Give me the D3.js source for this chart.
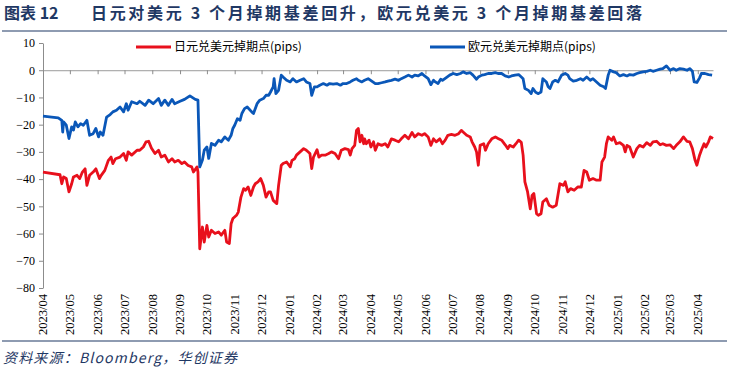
<!DOCTYPE html>
<html>
<head>
<meta charset="utf-8">
<script src="https://cdn.jsdelivr.net/npm/d3@7"></script>
<style>
  body { margin: 0; background: #fff; }
  svg { display: block; }
</style>
</head>
<body>
<script>
// 日元兑美元 3M 掉期点 (pips)
const jpy = [
  ["2023-04-01",-37.4],["2023-04-20",-38.4],["2023-04-22",-41.7],["2023-04-24",-39.2],["2023-04-27",-39.8],
  ["2023-04-30",-44.7],["2023-05-03",-41.7],["2023-05-05",-39.2],["2023-05-09",-38.6],["2023-05-12",-39.8],
  ["2023-05-15",-37.4],["2023-05-18",-36.2],["2023-05-20",-42.3],["2023-05-23",-38.6],["2023-05-27",-37.4],
  ["2023-05-30",-36.2],["2023-06-03",-39.8],["2023-06-05",-38.6],["2023-06-09",-36.8],["2023-06-13",-33.1],
  ["2023-06-16",-31.9],["2023-06-18",-34.3],["2023-06-21",-32.5],["2023-06-26",-31.9],["2023-06-30",-30.6],
  ["2023-07-03",-33.1],["2023-07-05",-30.0],["2023-07-09",-31.2],["2023-07-15",-29.4],["2023-07-18",-29.4],
  ["2023-07-22",-28.2],["2023-07-25",-26.3],["2023-07-28",-26.1],["2023-07-31",-28.6],["2023-08-04",-30.6],
  ["2023-08-08",-29.4],["2023-08-11",-31.9],["2023-08-15",-31.2],["2023-08-19",-33.7],["2023-08-23",-32.5],
  ["2023-08-26",-33.7],["2023-08-30",-33.1],["2023-09-03",-34.3],["2023-09-06",-33.7],["2023-09-10",-35.0],
  ["2023-09-14",-35.5],["2023-09-16",-37.4],["2023-09-20",-35.5],["2023-09-21",-37.4],["2023-09-23",-65.6],
  ["2023-09-26",-57.6],["2023-09-28",-63.1],["2023-10-01",-57.0],["2023-10-03",-61.3],["2023-10-06",-58.8],
  ["2023-10-10",-60.0],["2023-10-14",-59.4],["2023-10-17",-60.6],["2023-10-21",-58.8],["2023-10-23",-63.1],
  ["2023-10-26",-63.7],["2023-10-28",-56.4],["2023-10-30",-54.5],["2023-11-03",-53.3],["2023-11-05",-52.1],
  ["2023-11-08",-46.6],["2023-11-11",-43.5],["2023-11-13",-44.1],["2023-11-16",-42.9],["2023-11-19",-46.0],
  ["2023-11-22",-42.9],["2023-11-24",-41.7],["2023-11-27",-41.0],["2023-11-30",-39.8],["2023-12-03",-42.3],
  ["2023-12-06",-46.6],["2023-12-09",-44.7],["2023-12-11",-44.7],["2023-12-14",-47.8],["2023-12-18",-49.0],
  ["2023-12-20",-42.3],["2023-12-23",-34.9],["2023-12-25",-34.3],["2023-12-29",-33.7],["2024-01-02",-35.5],
  ["2024-01-04",-33.1],["2024-01-07",-32.5],["2024-01-09",-31.2],["2024-01-13",-30.0],["2024-01-17",-28.8],
  ["2024-01-20",-29.4],["2024-01-24",-30.6],["2024-01-26",-36.1],["2024-01-28",-31.9],["2024-02-01",-29.2],
  ["2024-02-03",-31.9],["2024-02-06",-31.2],["2024-02-10",-31.2],["2024-02-14",-30.6],["2024-02-17",-30.0],
  ["2024-02-21",-30.6],["2024-02-25",-32.5],["2024-02-28",-29.4],["2024-03-03",-28.8],["2024-03-07",-29.2],
  ["2024-03-09",-31.2],["2024-03-11",-28.8],["2024-03-14",-27.6],["2024-03-16",-22.1],["2024-03-18",-21.4],
  ["2024-03-20",-26.3],["2024-03-22",-23.9],["2024-03-24",-27.0],["2024-03-25",-25.2],["2024-03-27",-27.0],
  ["2024-03-30",-25.7],["2024-04-01",-28.2],["2024-04-04",-26.3],["2024-04-06",-29.4],["2024-04-09",-27.0],
  ["2024-04-13",-27.6],["2024-04-17",-27.0],["2024-04-20",-28.2],["2024-04-24",-25.2],["2024-04-28",-25.7],
  ["2024-05-02",-26.3],["2024-05-05",-25.2],["2024-05-09",-23.9],["2024-05-13",-25.2],["2024-05-17",-22.9],
  ["2024-05-20",-24.5],["2024-05-24",-23.3],["2024-05-28",-23.9],["2024-05-31",-23.3],["2024-06-04",-24.5],
  ["2024-06-07",-27.6],["2024-06-10",-25.2],["2024-06-13",-26.3],["2024-06-17",-25.2],["2024-06-20",-27.0],
  ["2024-06-23",-25.7],["2024-06-26",-23.9],["2024-06-30",-23.6],["2024-07-04",-23.9],["2024-07-08",-23.3],
  ["2024-07-11",-22.1],["2024-07-13",-22.7],["2024-07-17",-23.9],["2024-07-21",-24.5],["2024-07-23",-26.3],
  ["2024-07-26",-28.2],["2024-07-28",-30.0],["2024-07-30",-34.9],["2024-08-01",-27.6],["2024-08-05",-27.0],
  ["2024-08-07",-29.4],["2024-08-10",-27.0],["2024-08-14",-25.2],["2024-08-18",-24.5],["2024-08-21",-25.1],
  ["2024-08-25",-25.7],["2024-08-29",-27.4],["2024-09-01",-28.8],["2024-09-03",-27.6],["2024-09-07",-28.2],
  ["2024-09-10",-27.0],["2024-09-13",-25.7],["2024-09-16",-26.5],["2024-09-18",-31.2],["2024-09-20",-41.0],
  ["2024-09-23",-44.7],["2024-09-26",-50.9],["2024-09-28",-46.0],["2024-09-30",-45.3],["2024-10-03",-52.7],
  ["2024-10-05",-53.3],["2024-10-08",-52.7],["2024-10-10",-48.4],["2024-10-14",-47.2],["2024-10-17",-49.6],
  ["2024-10-21",-50.3],["2024-10-25",-49.6],["2024-10-29",-41.7],["2024-11-02",-42.3],["2024-11-04",-41.0],
  ["2024-11-07",-44.7],["2024-11-10",-43.5],["2024-11-14",-44.1],["2024-11-18",-42.9],["2024-11-22",-42.9],
  ["2024-11-25",-36.8],["2024-11-28",-37.4],["2024-12-01",-40.4],["2024-12-05",-39.8],["2024-12-09",-40.4],
  ["2024-12-13",-40.4],["2024-12-15",-33.7],["2024-12-18",-31.9],["2024-12-20",-27.0],["2024-12-22",-24.5],
  ["2024-12-26",-25.7],["2024-12-28",-24.5],["2024-12-31",-27.0],["2025-01-04",-26.6],["2025-01-08",-27.6],
  ["2025-01-10",-30.0],["2025-01-12",-27.6],["2025-01-15",-28.2],["2025-01-19",-31.9],["2025-01-23",-28.8],
  ["2025-01-26",-27.6],["2025-01-30",-28.2],["2025-02-03",-26.6],["2025-02-07",-27.6],["2025-02-10",-26.3],
  ["2025-02-14",-26.1],["2025-02-18",-27.4],["2025-02-21",-27.0],["2025-02-25",-27.6],["2025-03-01",-27.4],
  ["2025-03-05",-28.8],["2025-03-08",-27.6],["2025-03-12",-26.3],["2025-03-16",-24.5],["2025-03-20",-26.1],
  ["2025-03-23",-26.3],["2025-03-26",-28.8],["2025-03-29",-33.1],["2025-03-31",-34.9],["2025-04-03",-31.2],
  ["2025-04-05",-29.4],["2025-04-08",-27.0],["2025-04-10",-28.2],["2025-04-13",-26.3],["2025-04-15",-24.5],
  ["2025-04-18",-25.1]
];

// 欧元兑美元 3M 掉期点 (pips)
const eur = [
  ["2023-04-01",-16.9],["2023-04-18",-17.5],["2023-04-22",-18.4],["2023-04-23",-22.7],["2023-04-24",-19.0],
  ["2023-04-27",-20.2],["2023-04-30",-25.1],["2023-05-03",-20.8],["2023-05-05",-22.0],["2023-05-07",-19.0],
  ["2023-05-10",-20.8],["2023-05-13",-19.6],["2023-05-16",-20.2],["2023-05-20",-18.4],["2023-05-23",-23.9],
  ["2023-05-27",-23.3],["2023-05-30",-21.4],["2023-06-02",-24.5],["2023-06-04",-22.7],["2023-06-07",-23.9],
  ["2023-06-11",-17.2],["2023-06-15",-16.3],["2023-06-18",-15.3],["2023-06-22",-14.7],["2023-06-26",-13.5],
  ["2023-06-30",-15.3],["2023-07-03",-12.3],["2023-07-05",-14.7],["2023-07-09",-11.6],["2023-07-15",-12.3],
  ["2023-07-18",-11.4],["2023-07-24",-12.9],["2023-07-28",-11.0],["2023-08-02",-12.3],["2023-08-08",-10.4],
  ["2023-08-11",-12.9],["2023-08-15",-11.0],["2023-08-19",-12.9],["2023-08-23",-10.7],["2023-08-26",-12.3],
  ["2023-09-01",-11.4],["2023-09-06",-10.7],["2023-09-12",-9.4],["2023-09-18",-10.7],["2023-09-21",-11.0],
  ["2023-09-23",-35.5],["2023-09-26",-33.0],["2023-09-28",-29.4],["2023-10-01",-28.2],["2023-10-03",-32.4],
  ["2023-10-06",-26.9],["2023-10-10",-27.6],["2023-10-14",-25.7],["2023-10-17",-26.3],["2023-10-21",-24.5],
  ["2023-10-25",-25.7],["2023-10-28",-23.9],["2023-10-30",-21.4],["2023-11-01",-20.2],["2023-11-04",-17.8],
  ["2023-11-07",-18.4],["2023-11-09",-15.9],["2023-11-12",-14.1],["2023-11-15",-13.5],["2023-11-20",-15.3],
  ["2023-11-22",-15.9],["2023-11-26",-12.3],["2023-11-29",-11.0],["2023-12-03",-10.4],["2023-12-06",-9.2],
  ["2023-12-09",-9.2],["2023-12-11",-8.0],["2023-12-14",-6.1],["2023-12-15",-3.1],["2023-12-17",-8.6],
  ["2023-12-20",-7.4],["2023-12-23",-1.8],["2023-12-25",-2.5],["2023-12-29",-3.7],["2024-01-02",-4.3],
  ["2024-01-05",-3.1],["2024-01-09",-4.3],["2024-01-13",-3.7],["2024-01-17",-3.1],["2024-01-20",-4.3],
  ["2024-01-24",-4.9],["2024-01-26",-9.2],["2024-01-29",-6.1],["2024-02-01",-6.1],["2024-02-04",-5.5],
  ["2024-02-08",-4.9],["2024-02-12",-5.5],["2024-02-15",-4.9],["2024-02-19",-5.1],["2024-02-23",-4.9],
  ["2024-02-27",-5.5],["2024-03-01",-4.9],["2024-03-05",-4.9],["2024-03-09",-4.3],["2024-03-12",-3.7],
  ["2024-03-16",-3.1],["2024-03-18",-3.7],["2024-03-22",-4.3],["2024-03-25",-3.7],["2024-03-29",-3.1],
  ["2024-04-02",-4.0],["2024-04-06",-4.9],["2024-04-09",-4.9],["2024-04-13",-4.6],["2024-04-17",-4.3],
  ["2024-04-20",-4.0],["2024-04-24",-3.7],["2024-04-28",-3.3],["2024-05-02",-3.7],["2024-05-05",-3.1],
  ["2024-05-09",-2.5],["2024-05-13",-1.8],["2024-05-17",-2.5],["2024-05-20",-1.8],["2024-05-24",-2.1],
  ["2024-05-28",-1.2],["2024-05-31",-2.1],["2024-06-04",-3.1],["2024-06-07",-5.3],["2024-06-10",-3.7],
  ["2024-06-12",-4.3],["2024-06-15",-4.9],["2024-06-18",-3.3],["2024-06-20",-3.7],["2024-06-25",-2.5],
  ["2024-06-28",-1.8],["2024-07-02",-1.2],["2024-07-06",-1.6],["2024-07-10",-1.2],["2024-07-13",-0.6],
  ["2024-07-17",-1.2],["2024-07-21",-0.9],["2024-07-24",-1.8],["2024-07-28",-3.3],["2024-07-30",-2.5],
  ["2024-08-03",-1.8],["2024-08-06",-1.6],["2024-08-10",-1.2],["2024-08-14",-1.2],["2024-08-18",-0.9],
  ["2024-08-21",-1.2],["2024-08-25",-1.2],["2024-08-29",-2.1],["2024-09-02",-2.5],["2024-09-05",-2.1],
  ["2024-09-09",-1.8],["2024-09-13",-1.6],["2024-09-16",-2.5],["2024-09-18",-3.1],["2024-09-20",-6.7],
  ["2024-09-24",-7.4],["2024-09-27",-8.6],["2024-09-29",-6.7],["2024-10-02",-8.1],["2024-10-05",-8.6],
  ["2024-10-08",-8.0],["2024-10-10",-3.1],["2024-10-14",-4.3],["2024-10-16",-6.1],["2024-10-18",-6.7],
  ["2024-10-21",-4.3],["2024-10-24",-3.7],["2024-10-27",-4.3],["2024-10-31",-1.8],["2024-11-04",-1.2],
  ["2024-11-07",-1.8],["2024-11-09",-3.1],["2024-11-13",-4.0],["2024-11-17",-3.7],["2024-11-21",-3.1],
  ["2024-11-24",-3.7],["2024-11-28",-2.5],["2024-12-02",-3.7],["2024-12-05",-3.1],["2024-12-09",-4.3],
  ["2024-12-13",-5.5],["2024-12-17",-6.1],["2024-12-19",-6.7],["2024-12-22",-1.8],["2024-12-24",0.0],
  ["2024-12-28",-0.6],["2024-12-31",-0.9],["2025-01-04",-2.1],["2025-01-08",-1.6],["2025-01-12",-2.1],
  ["2025-01-15",-1.6],["2025-01-19",-1.8],["2025-01-23",-1.2],["2025-01-26",-0.9],["2025-01-30",-0.6],
  ["2025-02-03",-0.4],["2025-02-07",0.0],["2025-02-10",-0.4],["2025-02-14",0.0],["2025-02-18",0.4],
  ["2025-02-21",0.6],["2025-02-25",1.6],["2025-03-01",0.0],["2025-03-05",0.6],["2025-03-08",0.0],
  ["2025-03-12",0.6],["2025-03-16",0.4],["2025-03-20",0.0],["2025-03-23",0.6],["2025-03-26",-0.4],
  ["2025-03-28",-4.3],["2025-03-31",-4.5],["2025-04-03",-2.8],["2025-04-05",-1.2],["2025-04-09",-1.2],
  ["2025-04-13",-1.6],["2025-04-17",-1.8]
];

const yTicks = [10, 0, -10, -20, -30, -40, -50, -60, -70, -80];
const seriesNames = ["日元兑美元掉期点(pips)", "欧元兑美元掉期点(pips)"];
const titleNo = "图表 12";
const titleText = "日元对美元 3 个月掉期基差回升，欧元兑美元 3 个月掉期基差回落";
const sourceText = "资料来源：Bloomberg，华创证券";

const width = 729, height = 372;
const navy = "#1f3864";
const red = "#e8101c", blue = "#0a57b8";

const parse = d3.timeParse("%Y-%m-%d");
const series = [
  { name: seriesNames[0], color: red, values: jpy.map(d => ({ date: parse(d[0]), v: d[1] })) },
  { name: seriesNames[1], color: blue, values: eur.map(d => ({ date: parse(d[0]), v: d[1] })) }
];

const svg = d3.select("body").append("svg").attr("width", width).attr("height", height);

// title + rules
svg.append("text").attr("x", 4).attr("y", 19)
  .attr("font-family", "Noto Sans CJK SC").attr("font-weight", "bold").attr("font-size", 16)
  .attr("fill", navy).text(titleNo);
svg.append("text").attr("x", 91).attr("y", 19)
  .attr("font-family", "Noto Sans CJK SC").attr("font-weight", "bold").attr("font-size", 16)
  .attr("fill", navy).attr("textLength", 551).attr("lengthAdjust", "spacing").text(titleText);
svg.append("line").attr("x1", 2).attr("x2", 727).attr("y1", 31).attr("y2", 31)
  .attr("stroke", navy).attr("stroke-width", 1.2);
svg.append("line").attr("x1", 2).attr("x2", 727).attr("y1", 341).attr("y2", 341)
  .attr("stroke", navy).attr("stroke-width", 1.2);
svg.append("text").attr("x", 3).attr("y", 363)
  .attr("font-family", "Noto Sans CJK SC").attr("font-style", "italic").attr("font-size", 14)
  .attr("fill", navy).attr("textLength", 234).attr("lengthAdjust", "spacing").text(sourceText);

const x = d3.scaleTime()
  .domain([parse("2023-04-01"), parse("2025-04-18")])
  .range([43, 713]);
const y = d3.scaleLinear().domain([-80, 10]).range([288, 43]);

// y axis
const yAxis = svg.append("g").attr("transform", "translate(43,0)")
  .call(d3.axisLeft(y).tickValues(yTicks).tickSize(4).tickSizeOuter(0).tickFormat(d3.format("d")));
yAxis.select(".domain").attr("stroke", "#8c8c8c");
yAxis.selectAll(".tick line").attr("stroke", "#8c8c8c");
yAxis.selectAll("text").attr("font-family", "Liberation Serif").attr("font-size", 12)
  .attr("fill", "#000").attr("x", -8);

// x axis on the zero line
const months = d3.timeMonth.range(parse("2023-04-01"), parse("2025-04-02"));
const xAxis = svg.append("g").attr("transform", `translate(0,${y(0)})`)
  .call(d3.axisBottom(x).tickValues(months).tickSize(4).tickSizeOuter(0).tickFormat(""));
xAxis.select(".domain").attr("stroke", "#9a9a9a");
xAxis.selectAll(".tick line").attr("stroke", "#8c8c8c");

// month labels at the bottom
svg.append("g").selectAll("text").data(months).join("text")
  .attr("transform", d => `translate(${x(d)},294) rotate(-90)`)
  .attr("text-anchor", "end").attr("dy", "0.35em")
  .attr("font-family", "Liberation Serif").attr("font-size", 12.5).attr("fill", "#000")
  .text(d3.timeFormat("%Y/%m"));

// lines
const line = d3.line().x(d => x(d.date)).y(d => y(d.v));
svg.append("g").selectAll("path").data(series).join("path")
  .attr("d", d => line(d.values))
  .attr("fill", "none").attr("stroke", d => d.color)
  .attr("stroke-width", 2.8).attr("stroke-linejoin", "round");

// legend
const legendX = [136, 430];
const lg = svg.append("g").selectAll("g").data(series).join("g")
  .attr("transform", (d, i) => `translate(${legendX[i]},47)`);
lg.append("line").attr("x1", 0).attr("x2", 35).attr("stroke", d => d.color).attr("stroke-width", 3);
lg.append("text").attr("x", 38).attr("dy", "0.35em")
  .attr("font-family", "Noto Sans CJK SC").attr("font-size", 12).attr("fill", "#000")
  .text(d => d.name);
</script>
</body>
</html>
